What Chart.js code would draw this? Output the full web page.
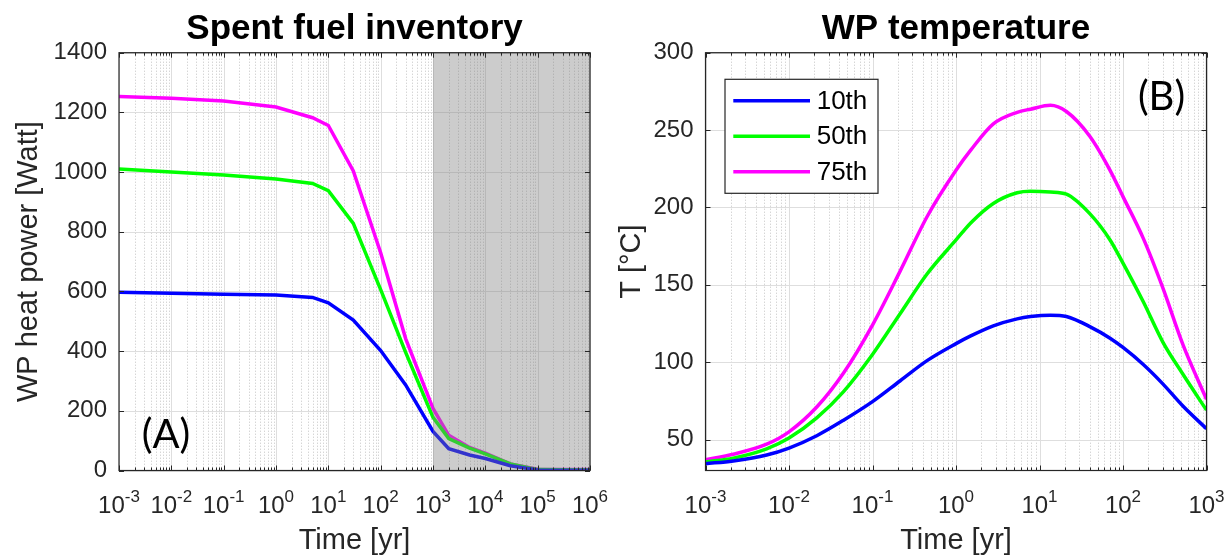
<!DOCTYPE html>
<html>
<head>
<meta charset="utf-8">
<script src="https://cdn.jsdelivr.net/npm/chart.js@4.4.0/dist/chart.umd.min.js"></script>
<style>
  html, body { margin: 0; padding: 0; background: #fff; }
  body { width: 1228px; height: 558px; position: relative; overflow: hidden; }
  .panel { position: absolute; top: 0; width: 614px; height: 558px; }
  #panelA { left: 0; }
  #panelB { left: 614px; }
</style>
</head>
<body>
<div class="panel" id="panelA"><canvas id="heatChart"></canvas></div>
<div class="panel" id="panelB"><canvas id="tempChart"></canvas></div>
<script>
// (A) spent fuel inventory: WP heat power [W] vs time [yr]
const heatTime = [0.001, 0.01, 0.1, 1, 5, 10, 30, 100, 300, 1000, 2000, 5000, 10000, 30000, 100000, 1000000];
const heat10th = [597, 594, 591, 588, 580, 562, 504, 402, 287, 131, 73, 52, 40, 16, 2, 1];
const heat50th = [1010, 1000, 990, 977, 962, 938, 828, 606, 396, 178, 107, 75, 56, 22, 3, 2];
const heat75th = [1253, 1247, 1238, 1218, 1182, 1156, 1004, 730, 442, 208, 118, 77, 58, 22, 4, 3];
const heatXTicks = [1e-3, 1e-2, 1e-1, 1, 1e1, 1e2, 1e3, 1e4, 1e5, 1e6];
const heatYTicks = [0, 200, 400, 600, 800, 1000, 1200, 1400];
const shadeRange = [1e3, 1e6];

// (B) WP temperature [°C] vs time [yr]
const tempTime = [0.001, 0.00215, 0.0054, 0.01, 0.0215, 0.045, 0.1, 0.215, 0.45, 1, 1.5, 2.8, 5.4, 7.8, 13.5, 21, 40, 70, 100, 175, 300, 525, 1000];
const temp10th = [34.4, 36.2, 40, 44.5, 52.5, 62.5, 74.5, 88, 101, 112, 117, 123.5, 128, 129.5, 130.4, 129.5, 123, 115.5, 109.5, 98.5, 86, 71.5, 57];
const temp50th = [35.5, 38, 44, 51, 64, 81, 105, 131.5, 157, 179, 190, 202.6, 209.5, 210.5, 210, 208.6, 196, 179, 164, 139, 113, 92, 69];
const temp75th = [37, 40.5, 47, 55, 71, 93, 124, 159, 194, 224, 237, 254, 261.5, 263.5, 266, 262, 246, 224, 207, 180, 148, 111, 76];
const tempXTicks = [1e-3, 1e-2, 1e-1, 1, 1e1, 1e2, 1e3];
const tempYTicks = [50, 100, 150, 200, 250, 300];

const seriesLabels = ["10th", "50th", "75th"];
const seriesColors = ["#0000ff", "#00ff00", "#ff00ff"];

const axisInk = "#262626";
const fontFamily = "'Liberation Sans', Arial, Helvetica, sans-serif";
Chart.defaults.font.family = fontFamily;

function strokeLine(ctx, x1, y1, x2, y2) {
  ctx.beginPath();
  ctx.moveTo(x1, y1);
  ctx.lineTo(x2, y2);
  ctx.stroke();
}

function drawPowerLabel(ctx, x, y, exp) {
  const baseFont = `24px ${fontFamily}`;
  const expFont = `17px ${fontFamily}`;
  ctx.font = baseFont;
  const wBase = ctx.measureText("10").width;
  ctx.font = expFont;
  const wExp = ctx.measureText(exp).width;
  const start = x - (wBase + wExp) / 2;
  ctx.textAlign = "left";
  ctx.textBaseline = "alphabetic";
  ctx.font = baseFont;
  ctx.fillText("10", start, y);
  ctx.font = expFont;
  ctx.fillText(exp, start + wBase, y - 11.5);
}

const matlabAxes = {
  id: "matlabAxes",
  beforeDatasetsDraw(chart, args, opts) {
    const { ctx, chartArea: a, scales: { x, y } } = chart;
    const decades = opts.decades;
    ctx.save();
    ctx.lineWidth = 1;

    // minor grid, dotted
    ctx.strokeStyle = "#c4c4c4";
    ctx.setLineDash([1, 2]);
    decades.slice(0, -1).forEach((d) => {
      for (let m = 2; m <= 9; m++) {
        const px = Math.round(x.getPixelForValue(d * m)) + 0.5;
        strokeLine(ctx, px, a.top, px, a.bottom);
      }
    });
    ctx.setLineDash([]);

    // major grid
    ctx.strokeStyle = "#dedede";
    decades.forEach((d) => {
      const px = Math.round(x.getPixelForValue(d)) + 0.5;
      strokeLine(ctx, px, a.top, px, a.bottom);
    });
    y.ticks.forEach((t) => {
      const py = Math.round(y.getPixelForValue(t.value)) + 0.5;
      strokeLine(ctx, a.left, py, a.right, py);
    });
    ctx.restore();
  },
  afterDatasetsDraw(chart, args, opts) {
    const { ctx, chartArea: a, scales: { x, y } } = chart;
    const decades = opts.decades;
    ctx.save();

    if (opts.shade) {
      const x1 = x.getPixelForValue(opts.shade[0]);
      const x2 = x.getPixelForValue(opts.shade[1]);
      ctx.fillStyle = "rgba(128, 128, 128, 0.4)";
      ctx.fillRect(x1, a.top, x2 - x1, a.bottom - a.top);
    }

    // box
    ctx.strokeStyle = axisInk;
    ctx.lineWidth = 1.2;
    ctx.strokeRect(a.left, a.top, a.right - a.left, a.bottom - a.top);

    // tick marks, pointing in
    ctx.lineWidth = 1;
    y.ticks.forEach((t) => {
      const py = Math.round(y.getPixelForValue(t.value)) + 0.5;
      strokeLine(ctx, a.left, py, a.left + 5, py);
      strokeLine(ctx, a.right - 5, py, a.right, py);
    });
    decades.forEach((d, i) => {
      const px = Math.round(x.getPixelForValue(d)) + 0.5;
      strokeLine(ctx, px, a.bottom, px, a.bottom - 5);
      strokeLine(ctx, px, a.top, px, a.top + 5);
      if (i < decades.length - 1) {
        for (let m = 2; m <= 9; m++) {
          const mx = Math.round(x.getPixelForValue(d * m)) + 0.5;
          strokeLine(ctx, mx, a.bottom, mx, a.bottom - 3);
          strokeLine(ctx, mx, a.top, mx, a.top + 3);
        }
      }
    });

    // x tick labels 10^n
    ctx.fillStyle = axisInk;
    decades.forEach((d) => {
      const exp = String(Math.round(Math.log10(d)));
      drawPowerLabel(ctx, x.getPixelForValue(d), a.bottom + 42.5, exp);
    });

    // title
    ctx.fillStyle = "#000";
    ctx.font = `bold 35px ${fontFamily}`;
    ctx.textAlign = "center";
    ctx.textBaseline = "alphabetic";
    ctx.fillText(opts.title, (a.left + a.right) / 2, 39);

    // panel tag
    ctx.font = "40px Lato, 'Open Sans', sans-serif";
    ctx.textBaseline = "middle";
    ctx.fillText(opts.tag, a.left + opts.tagAt[0], a.top + opts.tagAt[1]);

    // legend
    if (opts.legend) {
      const bx = a.left + 19.5;
      const by = a.top + 26.6;
      ctx.fillStyle = "#fff";
      ctx.fillRect(bx, by, 153, 114);
      ctx.strokeStyle = axisInk;
      ctx.lineWidth = 1.2;
      ctx.strokeRect(bx, by, 153, 114);
      chart.data.datasets.forEach((ds, i) => {
        const ry = by + 21.4 + i * 35.5;
        ctx.strokeStyle = ds.borderColor;
        ctx.lineWidth = 3.5;
        strokeLine(ctx, bx + 8.3, ry, bx + 85, ry);
        ctx.fillStyle = "#000";
        ctx.font = `26px ${fontFamily}`;
        ctx.textAlign = "left";
        ctx.textBaseline = "middle";
        ctx.fillText(ds.label, bx + 91.7, ry + 1);
      });
    }
    ctx.restore();
  }
};

function buildSets(times, seriesList, smooth) {
  return seriesList.map((values, idx) => ({
    label: seriesLabels[idx],
    data: times.map((t, i) => ({ x: t, y: values[i] })),
    borderColor: seriesColors[idx],
    backgroundColor: seriesColors[idx],
    borderWidth: 3.5,
    pointRadius: 0,
    fill: false,
    cubicInterpolationMode: smooth ? "monotone" : "default",
    tension: 0
  }));
}

function buildOptions(cfg) {
  return {
    responsive: true,
    maintainAspectRatio: false,
    animation: false,
    layout: { padding: { top: 52.7, right: cfg.padRight, bottom: 0, left: 0 } },
    plugins: {
      legend: { display: false },
      tooltip: { enabled: false },
      matlabAxes: cfg.axes
    },
    scales: {
      x: {
        type: "logarithmic",
        min: cfg.xTicks[0],
        max: cfg.xTicks[cfg.xTicks.length - 1],
        afterBuildTicks(scale) {
          scale.ticks = cfg.xTicks.map((v) => ({ value: v, major: true }));
        },
        afterFit(scale) {
          scale.height = 87.5;
        },
        ticks: { display: false },
        grid: { display: false, drawTicks: false },
        border: { display: false },
        title: {
          display: true,
          text: "Time [yr]",
          color: axisInk,
          font: { size: 29 },
          padding: { top: 0, bottom: 0 }
        }
      },
      y: {
        min: cfg.yMin,
        max: cfg.yMax,
        afterBuildTicks(scale) {
          scale.ticks = cfg.yTicks.map((v) => ({ value: v }));
        },
        afterFit(scale) {
          scale.width = cfg.yWidth;
        },
        ticks: {
          color: axisInk,
          font: { size: 24 },
          padding: 12,
          callback: (v) => String(v)
        },
        grid: { display: false, drawTicks: false },
        border: { display: false },
        title: {
          display: true,
          text: cfg.yTitle,
          color: axisInk,
          font: { size: 29 },
          padding: { top: cfg.yTitlePad, bottom: 0 }
        }
      }
    }
  };
}

new Chart(document.getElementById("heatChart"), {
  type: "line",
  data: { datasets: buildSets(heatTime, [heat10th, heat50th, heat75th], false) },
  options: buildOptions({
    padRight: 24,
    xTicks: heatXTicks,
    yTicks: heatYTicks,
    yMin: 0,
    yMax: 1400,
    yWidth: 119,
    yTitle: "WP heat power [Watt]",
    yTitlePad: 12,
    axes: { decades: heatXTicks, shade: shadeRange, title: "Spent fuel inventory", tag: "(A)", tagAt: [47, 382], legend: false }
  }),
  plugins: [matlabAxes]
});

new Chart(document.getElementById("tempChart"), {
  type: "line",
  data: { datasets: buildSets(tempTime, [temp10th, temp50th, temp75th], true) },
  options: buildOptions({
    padRight: 21.5,
    xTicks: tempXTicks,
    yTicks: tempYTicks,
    yMin: 30,
    yMax: 300,
    yWidth: 91.5,
    yTitle: "T [°C]",
    yTitlePad: 1,
    axes: { decades: tempXTicks, shade: null, title: "WP temperature", tag: "(B)", tagAt: [456, 44], legend: true }
  }),
  plugins: [matlabAxes]
});
</script>
</body>
</html>
